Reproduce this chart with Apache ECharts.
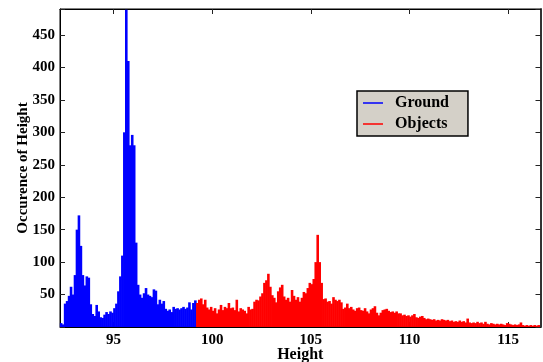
<!DOCTYPE html>
<html>
<head>
<meta charset="utf-8">
<script src="https://cdn.jsdelivr.net/npm/echarts@6/dist/echarts.min.js"></script>
<style>
html,body{margin:0;padding:0;background:#fff;}
#chart{width:543px;height:362px;}
</style>
</head>
<body>
<div id="chart"></div>
<script>
// Histogram bins: start and width (in Height units)
var binStart = 92.3;
var binWidth = 0.1;
var xTicks = [95, 100, 105, 110, 115];
var seriesNames = ['Ground', 'Objects'];

// Counts per bin, Ground (bins 0..68)
var groundCounts = [
  6,4,36,40,48,62,50,80,150,172,
  125,80,64,78,76,35,20,17,34,24,
  15,14,19,23,20,24,22,29,36,55,
  78,110,300,489,410,280,296,280,130,65,
  50,45,52,60,50,48,46,58,56,35,
  42,36,40,28,25,27,23,31,28,29,
  27,29,31,28,30,38,27,37,41
];
// Counts per bin, Objects (bins 69..242)
var objectCounts = [
  37,42,44,35,42,30,27,31,25,29,
  21,27,34,26,31,29,37,29,30,26,
  42,24,29,27,25,21,31,27,28,39,
  42,41,47,52,68,72,82,62,49,45,
  38,55,61,65,47,42,45,39,57,48,
  42,46,39,45,54,52,60,68,66,74,
  100,142,100,68,43,44,39,40,36,46,
  42,40,42,38,28,30,36,29,31,27,
  25,29,30,26,25,29,24,21,27,29,
  32,22,18,22,26,27,28,25,23,24,
  22,24,21,21,18,19,17,18,16,18,
  20,15,14,16,17,14,12,13,12,11,
  12,10,11,10,12,11,10,11,9,10,
  8,9,8,10,8,9,7,13,7,6,
  7,6,8,6,7,5,8,5,4,6,
  5,4,5,4,5,4,3,6,5,4,
  3,4,3,4,7,3,2,3,2,3,
  2,3,2,3
];

function toPairs(counts, offset) {
  return counts.map(function (c, k) {
    var center = binStart + binWidth * (offset + k + 0.5);
    return [Math.round(center * 1000) / 1000, c];
  });
}
var groundData = toPairs(groundCounts, 0);
var objectData = toPairs(objectCounts, groundCounts.length);

var font = 'Liberation Serif';
var chart = echarts.init(document.getElementById('chart'), null, {renderer: 'canvas'});
var axisLineStyle = {color: '#000', width: 1};
var tickStyle = {color: '#222', width: 1};

chart.setOption({
  animation: false,
  backgroundColor: '#fff',
  grid: {left: 60, right: 2.5, top: 9, bottom: 35, show: true, borderColor: '#000', borderWidth: 1,
    backgroundColor: 'transparent', containLabel: false, outerBoundsMode: 'none'},
  legend: {
    orient: 'vertical',
    left: 357, top: 91,
    data: seriesNames,
    icon: 'rect',
    itemWidth: 20, itemHeight: 1.5,
    itemGap: 3,
    padding: [3, 19, 3, 6],
    backgroundColor: '#d4d0c8',
    borderColor: '#000',
    borderWidth: 1.5,
    borderRadius: 0,
    textStyle: {fontFamily: font, fontWeight: 'bold', fontSize: 16, color: '#000', lineHeight: 18, padding: [0, 0, 0, 7]}
  },
  xAxis: [{
    type: 'value', min: 92.29, max: 116.64,
    name: 'Height', nameLocation: 'middle', nameGap: 20, nameMoveOverlap: false,
    nameTextStyle: {fontFamily: font, fontWeight: 'bold', fontSize: 16, color: '#000'},
    axisLine: {show: true, onZero: false, lineStyle: axisLineStyle},
    axisTick: {show: true, inside: true, length: 5, lineStyle: tickStyle, customValues: xTicks},
    axisLabel: {show: true, customValues: xTicks, margin: 6, fontFamily: font, fontWeight: 'bold', fontSize: 15, color: '#000'},
    splitLine: {show: false}
  }, {
    type: 'value', min: 92.29, max: 116.64, position: 'top',
    axisLine: {show: true, onZero: false, lineStyle: axisLineStyle},
    axisTick: {show: true, inside: true, length: 5, lineStyle: tickStyle, customValues: xTicks},
    axisLabel: {show: false},
    splitLine: {show: false}
  }],
  yAxis: [{
    type: 'value', min: 0, max: 490, interval: 50,
    name: 'Occurence of Height', nameLocation: 'middle', nameGap: 29, nameMoveOverlap: false,
    nameTextStyle: {fontFamily: font, fontWeight: 'bold', fontSize: 15, color: '#000'},
    axisLine: {show: true, onZero: false, lineStyle: axisLineStyle},
    axisTick: {show: true, inside: true, length: 5, lineStyle: tickStyle},
    axisLabel: {margin: 5, fontFamily: font, fontWeight: 'bold', fontSize: 15, color: '#000',
      formatter: function (v) { return (v > 0 && v % 50 === 0) ? String(v) : ''; }},
    splitLine: {show: false}
  }, {
    type: 'value', min: 0, max: 490, interval: 50, position: 'right',
    axisLine: {show: true, onZero: false, lineStyle: {color: '#333', width: 2}},
    axisTick: {show: true, inside: true, length: 5, lineStyle: tickStyle},
    axisLabel: {show: false},
    splitLine: {show: false}
  }],
  series: [{
    name: seriesNames[0], type: 'bar', xAxisIndex: 0, yAxisIndex: 0,
    data: groundData, barWidth: 2.6, barGap: '-100%',
    itemStyle: {color: '#0000ff'}, large: false
  }, {
    name: seriesNames[1], type: 'bar', xAxisIndex: 0, yAxisIndex: 0,
    data: objectData, barWidth: 2.6, barGap: '-100%',
    itemStyle: {color: '#ff0000'}, large: false
  }]
});
</script>
</body>
</html>
